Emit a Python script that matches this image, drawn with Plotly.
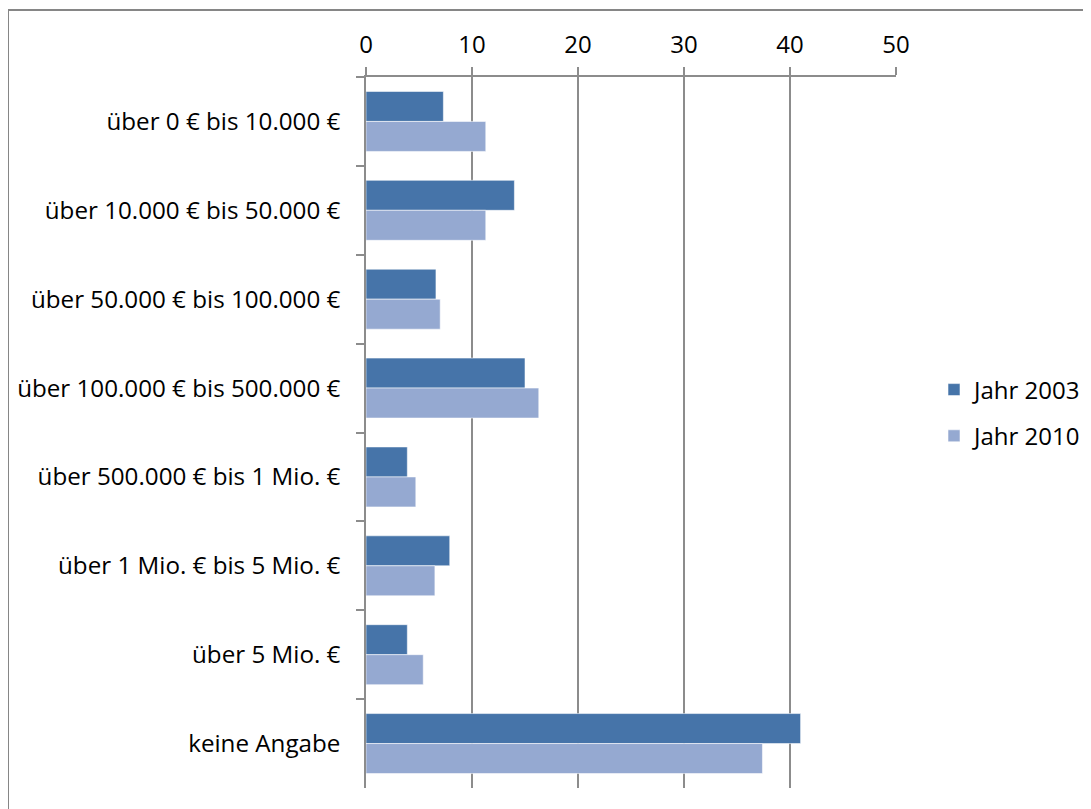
import plotly.graph_objects as go

categories = [
    "über 0 € bis 10.000 €",
    "über 10.000 € bis 50.000 €",
    "über 50.000 € bis 100.000 €",
    "über 100.000 € bis 500.000 €",
    "über 500.000 € bis 1 Mio. €",
    "über 1 Mio. € bis 5 Mio. €",
    "über 5 Mio. €",
    "keine Angabe",
]
series_names = ["Jahr 2003", "Jahr 2010"]
values_2003 = [7.3, 14.0, 6.6, 15.0, 3.9, 7.9, 3.9, 41.0]
values_2010 = [11.3, 11.3, 7.0, 16.3, 4.7, 6.5, 5.4, 37.4]
x_ticks = [0, 10, 20, 30, 40, 50]

colors = ["#4674a9", "#95a9d1"]
FONT = "Open Sans"
FS = 24
GRID = "#8c8c8c"

fig = go.Figure()
for name, vals, col in zip(series_names, [values_2003, values_2010], colors):
    fig.add_trace(go.Bar(
        y=categories, x=vals, name=name, orientation="h",
        marker=dict(color=col, line=dict(color="rgba(255,255,255,0.55)", width=1)),
        legendgroup=name,
    ))

# page body has an 8px margin; compensate so the plot lands at the target pixels
OFF = 8
W, H = 1091, 809
L, R, T, B = 366, 1091 - 896, 77, 809 - 788
pw, ph = W - L - R, H - T - B

fig.update_layout(
    width=W - OFF, height=H - OFF,
    margin=dict(l=L - OFF, r=R, t=T - OFF, b=B, pad=0, autoexpand=False),
    paper_bgcolor="white", plot_bgcolor="white",
    barmode="group", bargap=0.325, bargroupgap=0,
    font=dict(family=FONT, size=FS, color="black"),
    showlegend=True,
    legend=dict(
        x=(934 - L) / pw, y=(788 - 413) / ph, xanchor="left", yanchor="middle",
        traceorder="grouped", tracegroupgap=12,
        font=dict(family=FONT, size=FS, color="black"),
        bgcolor="rgba(0,0,0,0)", itemwidth=30,
    ),
    xaxis=dict(
        side="top", range=[0, 50], tickvals=x_ticks,
        showgrid=True, gridcolor=GRID, gridwidth=1.5,
        showline=True, linecolor=GRID, linewidth=1.5,
        ticks="outside", ticklen=8, tickcolor=GRID, tickwidth=1.5,
        ticklabelstandoff=5, zeroline=False, fixedrange=True,
        automargin=False,
    ),
    yaxis=dict(
        autorange="reversed", type="category",
        tickson="boundaries", showgrid=False,
        showline=True, linecolor=GRID, linewidth=1.5,
        ticks="outside", ticklen=8, tickcolor=GRID, tickwidth=1.5,
        tickfont=dict(family=FONT, size=24.2, color="black"),
        ticklabelstandoff=19, fixedrange=True, automargin=False,
    ),
    shapes=[dict(
        type="rect", xref="paper", yref="paper",
        x0=(8 - L) / pw, x1=1.6, y0=-0.2, y1=(788 - 10) / ph,
        line=dict(color="#868686", width=2), fillcolor="rgba(0,0,0,0)",
        layer="below",
    )],
)

fig.write_html("out.html")
